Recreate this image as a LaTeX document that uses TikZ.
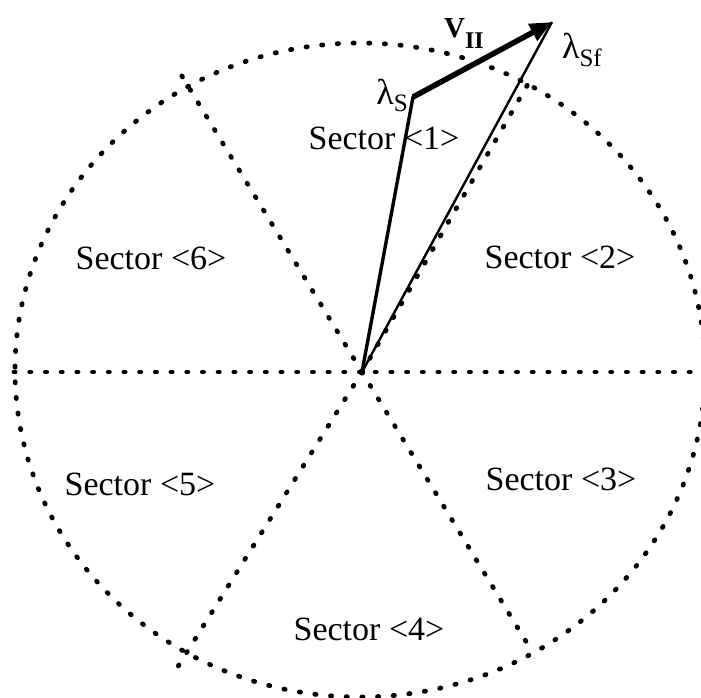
\documentclass[tikz,border=0pt]{standalone}
\usepackage{fontspec}
\setmainfont{Liberation Serif}
\usetikzlibrary{arrows.meta}
\begin{document}
\begin{tikzpicture}[x=1pt,y=-1pt,
  dotline/.style={line width=4.8pt, dash pattern=on 1.2pt off 14.5pt, line cap=round},
  sectorlabel/.style={font=\fontsize{34}{40}\selectfont, inner sep=0pt, anchor=base},
  veclabel/.style={inner sep=0pt},
  vec/.style={line width=3.4pt, line cap=round},
  thinvec/.style={line width=2.4pt},
  varrow/.style={line width=5.5pt, -{Triangle[length=22pt,width=18pt]}}
]
\useasboundingbox (0,0) rectangle (701,697);
\coordinate (C) at (360,370);
\coordinate (O) at (362,372);
\coordinate (L) at (14,372);
\coordinate (R) at (701,372);
\coordinate (UL) at (177,68);
\coordinate (UR) at (528,84);
\coordinate (LL) at (177,668);
\coordinate (LR) at (530,648);
\draw[dotline] (C) ellipse [x radius=345pt, y radius=327pt];
\draw[dotline] (L) -- (R);
\draw[dotline] (O) -- (UL);
\draw[dotline] (O) -- (UR);
\draw[dotline] (O) -- (LL);
\draw[dotline] (O) -- (LR);
\coordinate (S) at (413,97);
\coordinate (F) at (552,22);
\draw[vec] (O) -- (S);
\draw[thinvec] (O) -- (F);
\draw[varrow] (S) -- (F);
\node[veclabel, anchor=base east] (lS) at (408,104) {\fontsize{36}{38}\selectfont λ\raisebox{-7pt}{\fontsize{25}{27}\selectfont S}};
\node[veclabel, anchor=base east] (lSf) at (602,58) {\fontsize{36}{38}\selectfont λ\raisebox{-8pt}{\fontsize{25}{27}\selectfont Sf}};
\node[veclabel, anchor=base west] (lV) at (444,37) {\fontsize{29}{31}\selectfont\bfseries V\raisebox{-11pt}{\fontsize{24}{26}\selectfont II}};
\node[sectorlabel] (s1) at (384,149) {Sector <1>};
\node[sectorlabel] (s2) at (560,268) {Sector <2>};
\node[sectorlabel] (s3) at (561,490) {Sector <3>};
\node[sectorlabel] (s4) at (369,640) {Sector <4>};
\node[sectorlabel] (s5) at (140,495) {Sector <5>};
\node[sectorlabel] (s6) at (151,269) {Sector <6>};
\end{tikzpicture}
\end{document}
